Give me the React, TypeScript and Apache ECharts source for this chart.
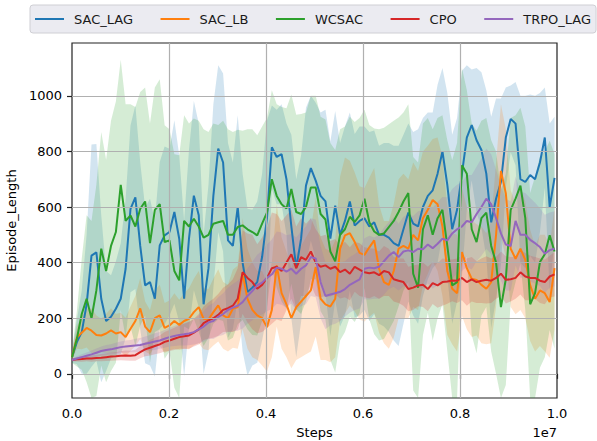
import React, { useEffect, useRef } from "react";
import * as echarts from "echarts";

// ---- data ----
const seriesNames = ["SAC_LAG", "SAC_LB", "WCSAC", "CPO", "TRPO_LAG"];
const colors = ["#1f77b4", "#ff7f0e", "#2ca02c", "#d62728", "#9467bd"];
const yTicks = [0, 200, 400, 600, 800, 1000];
const xTicks = [0, 2e6, 4e6, 6e6, 8e6, 1e7];

const sacLag = [
  60, 114, 150, 250, 425, 437, 270, 190, 205, 234,
  270, 378, 593, 635, 460, 318, 330, 270, 462, 498,
  510, 582, 486, 270, 486, 641, 570, 250, 380, 640,
  810, 760, 480, 460, 600, 400, 294, 310, 330, 420,
  560, 815, 780, 790, 700, 530, 380, 486, 677, 740,
  695, 640, 620, 486, 605, 500, 550, 620, 533, 550,
  560, 530, 545, 500, 500, 490, 470, 460, 520, 580,
  540, 530, 600, 640, 660, 720, 800, 680, 520, 590,
  720, 850, 895, 840, 805, 720, 545, 630, 690, 850,
  917, 900, 700, 690, 715, 700, 760, 850, 600, 705,
];
const sacLagStd = [
  20, 80, 150, 250, 400, 390, 300, 180, 150, 170,
  200, 250, 300, 330, 300, 280, 300, 280, 300, 320,
  300, 330, 300, 280, 320, 340, 330, 250, 300, 330,
  300, 320, 350, 300, 330, 320, 300, 280, 290, 300,
  350, 150, 170, 180, 200, 330, 320, 300, 280, 260,
  280, 300, 330, 350, 340, 330, 340, 320, 330, 340,
  330, 340, 330, 320, 330, 340, 350, 360, 340, 320,
  330, 350, 320, 300, 280, 320, 300, 330, 340, 330,
  370, 260, 200, 260, 280, 300, 380, 360, 300, 180,
  120, 150, 300, 310, 290, 300, 250, 180, 300, 220,
];

const sacLb = [
  60, 130, 148, 165, 155, 140, 138, 145, 156, 145,
  150, 132, 162, 190, 235, 170, 150, 200, 210, 165,
  174, 190, 176, 190, 198, 222, 240, 198, 195, 222,
  246, 210, 200, 234, 240, 360, 270, 230, 210, 200,
  168, 230, 390, 290, 250, 200, 240, 260, 280, 300,
  384, 270, 250, 242, 270, 450, 498, 506, 474, 435,
  428, 455, 480, 378, 330, 320, 370, 450, 460, 450,
  500, 480, 560, 590, 625, 610, 530, 370, 306, 290,
  438, 380, 342, 338, 320, 306, 330, 500, 730, 650,
  450, 414, 450, 410, 318, 270, 300, 290, 258, 380,
];
const sacLbStd = [
  10, 40, 60, 70, 80, 70, 60, 70, 80, 70,
  70, 70, 80, 90, 110, 90, 80, 100, 110, 90,
  90, 100, 90, 100, 110, 120, 130, 110, 110, 120,
  130, 120, 120, 140, 150, 200, 180, 170, 160, 170,
  160, 170, 220, 200, 190, 180, 190, 200, 210, 220,
  250, 220, 200, 200, 210, 260, 280, 260, 250, 240,
  240, 250, 260, 230, 220, 230, 240, 250, 260, 250,
  260, 250, 240, 230, 220, 240, 250, 230, 200, 210,
  230, 220, 210, 200, 210, 200, 220, 260, 240, 230,
  210, 200, 220, 210, 200, 190, 200, 210, 200, 220,
];

const wcsac = [
  60, 126, 215, 270, 200, 300, 450, 370, 460, 510,
  680, 550, 570, 530, 594, 620, 470, 590, 610, 474,
  480, 370, 336, 550, 530, 558, 530, 490, 500, 540,
  545, 550, 500, 500, 528, 534, 520, 510, 498, 540,
  580, 700, 640, 610, 595, 665, 582, 575, 600, 670,
  670, 575, 555, 440, 405, 500, 520, 565, 546, 570,
  630, 545, 512, 500, 505, 528, 550, 582, 620, 650,
  360, 310, 520, 570, 500, 560, 590, 460, 318, 330,
  750, 720, 520, 474, 560, 580, 460, 400, 240, 340,
  590, 630, 677, 560, 250, 290, 402, 430, 498, 440,
];
const wcsacStd = [
  20, 100, 200, 300, 350, 380, 420, 400, 450, 470,
  450, 420, 400, 430, 420, 410, 430, 440, 450, 420,
  400, 420, 450, 380, 370, 360, 380, 390, 370, 360,
  350, 360, 380, 370, 350, 340, 360, 370, 360, 350,
  340, 320, 330, 350, 360, 340, 350, 360, 340, 330,
  330, 350, 360, 390, 400, 380, 370, 360, 360, 350,
  320, 350, 370, 380, 380, 370, 360, 340, 320, 320,
  420, 450, 380, 350, 380, 360, 340, 380, 450, 500,
  350, 300, 380, 400, 350, 340, 380, 400, 420, 380,
  330, 300, 280, 330, 400, 420, 380, 370, 340, 350,
];

const cpo = [
  50, 52, 53, 55, 55, 57, 58, 60, 62, 63,
  65, 66, 65, 67, 78, 88, 94, 100, 106, 115,
  120, 126, 132, 135, 138, 148, 160, 182, 192, 200,
  212, 230, 236, 245, 270, 366, 345, 330, 306, 320,
  345, 380, 385, 370, 400, 430, 380, 420, 410, 440,
  400, 385, 390, 378, 385, 366, 375, 360, 385, 375,
  365, 362, 365, 355, 370, 365, 340, 335, 330, 305,
  310, 318, 320, 305, 326, 318, 330, 332, 336, 335,
  345, 330, 340, 330, 335, 338, 335, 345, 360, 338,
  340, 345, 365, 350, 345, 345, 335, 330, 350, 358,
];
const cpoStd = [
  5, 8, 10, 10, 12, 12, 13, 14, 15, 15,
  16, 18, 18, 20, 22, 25, 28, 30, 32, 35,
  38, 40, 42, 45, 48, 50, 55, 60, 65, 70,
  75, 80, 85, 95, 110, 150, 160, 170, 160, 170,
  180, 200, 190, 180, 170, 160, 150, 140, 130, 120,
  120, 110, 110, 100, 100, 95, 100, 95, 90, 95,
  90, 90, 85, 85, 90, 85, 80, 80, 85, 80,
  80, 75, 80, 80, 75, 80, 85, 80, 75, 80,
  80, 85, 80, 75, 80, 85, 80, 75, 80, 85,
  80, 75, 80, 85, 80, 75, 80, 80, 75, 80,
];

const trpoLag = [
  50, 55, 60, 65, 70, 76, 82, 86, 88, 92,
  96, 98, 100, 102, 104, 108, 112, 116, 120, 126,
  132, 136, 140, 142, 145, 150, 160, 170, 185, 190,
  205, 215, 230, 238, 245, 258, 280, 298, 318, 328,
  345, 358, 382, 378, 368, 378, 360, 378, 390, 420,
  415, 330, 280, 285, 290, 295, 305, 320, 330, 340,
  378, 382, 380, 385, 405, 425, 438, 420, 440, 444,
  438, 450, 448, 465, 452, 468, 486, 480, 505, 520,
  530, 550, 545, 575, 600, 630, 610, 560, 505, 465,
  460, 550, 500, 500, 482, 470, 456, 432, 445, 450,
];
const trpoLagStd = [
  5, 8, 10, 12, 14, 15, 16, 18, 18, 20,
  20, 22, 22, 24, 25, 26, 28, 30, 30, 32,
  34, 36, 38, 40, 42, 45, 50, 55, 60, 65,
  70, 75, 80, 85, 90, 95, 100, 105, 110, 115,
  120, 125, 130, 130, 130, 125, 130, 135, 140, 140,
  140, 130, 120, 110, 110, 105, 100, 100, 100, 105,
  110, 115, 110, 115, 120, 120, 125, 120, 125, 130,
  130, 135, 140, 140, 145, 150, 150, 155, 160, 160,
  160, 165, 170, 170, 175, 180, 180, 175, 170, 165,
  160, 160, 155, 150, 150, 145, 140, 140, 135, 135,
];

const means = [sacLag, sacLb, wcsac, cpo, trpoLag];
const stds = [sacLagStd, sacLbStd, wcsacStd, cpoStd, trpoLagStd];
const steps = sacLag.map((_, i) => i * 1.005e5);

const Y_MIN = -87;
const Y_MAX = 1190;
const FONT = "DejaVu Sans";

function bandSeries(idx: number) {
  const mean = means[idx];
  const std = stds[idx];
  return {
    type: "custom",
    name: seriesNames[idx] + "_band",
    silent: true,
    z: 1,
    clip: true,
    data: [[0, 0]],
    renderItem: (_params: any, api: any) => {
      const top = mean.map((m, i) => api.coord([steps[i], Math.min(m + std[i], Y_MAX)]));
      const bot = mean
        .map((m, i) => api.coord([steps[i], Math.max(m - std[i], Y_MIN)]))
        .reverse();
      return {
        type: "polygon",
        shape: { points: top.concat(bot) },
        style: { fill: colors[idx], opacity: 0.2 },
      };
    },
  };
}

function lineSeries(idx: number) {
  return {
    type: "line",
    name: seriesNames[idx],
    symbol: "none",
    showSymbol: false,
    z: 3,
    lineStyle: { color: colors[idx], width: 2 },
    itemStyle: { color: colors[idx] },
    data: steps.map((x, i) => [x, means[idx][i]]),
  };
}

export default function App() {
  const ref = useRef<HTMLDivElement>(null);
  useEffect(() => {
    document.body.style.margin = "0";
    if (!ref.current) return;
    const chart = echarts.init(ref.current, null, { renderer: "svg" });
    const gridSeries = {
      type: "line",
      name: "grid",
      z: 2,
      silent: true,
      data: [],
      markLine: {
        silent: true,
        symbol: ["none", "none"],
        label: { show: false },
        animation: false,
        lineStyle: { color: "#b0b0b0", width: 1.2, type: "solid" },
        data: [
          ...yTicks.map((v) => ({ yAxis: v })),
          ...xTicks.slice(1, -1).map((v) => ({ xAxis: v })),
        ],
      },
    };
    chart.setOption({
      animation: false,
      backgroundColor: "#ffffff",
      textStyle: { fontFamily: FONT },
      grid: {
        left: 72,
        right: 40,
        top: 43,
        bottom: 43,
        containLabel: false,
        outerBoundsMode: "none",
        show: true,
        borderColor: "#222",
        borderWidth: 1.2,
        backgroundColor: "transparent",
      },
      legend: {
        data: seriesNames,
        left: 30,
        top: 5,
        width: 700,
        padding: [7, 5, 7, 5],
        icon: "rect",
        itemWidth: 29,
        itemHeight: 2,
        itemGap: 27.5,
        backgroundColor: "#ebebf1",
        borderColor: "#cfcfd4",
        borderWidth: 1,
        borderRadius: 3,
        textStyle: {
          fontSize: 13,
          lineHeight: 14,
          color: "#1a1a1a",
          fontFamily: FONT,
          padding: [0, 0, 0, 5],
        },
      },
      xAxis: {
        type: "value",
        min: 0,
        max: 1e7,
        interval: 2e6,
        name: "Steps",
        nameLocation: "middle",
        nameGap: 28,
        nameTextStyle: { fontSize: 13, color: "#000", fontFamily: FONT },
        axisLine: { show: false },
        axisTick: { show: true, length: 5, lineStyle: { color: "#222", width: 1.2 } },
        axisLabel: {
          fontSize: 13,
          color: "#000",
          fontFamily: FONT,
          margin: 9,
          formatter: (v: number) => (v / 1e7).toFixed(1),
        },
        splitLine: { show: false },
      },
      yAxis: {
        type: "value",
        min: Y_MIN,
        max: Y_MAX,
        name: "Episode_Length",
        nameLocation: "middle",
        nameGap: 50,
        nameRotate: 90,
        nameTextStyle: { fontSize: 13, color: "#000", fontFamily: FONT },
        axisLine: { show: false },
        axisTick: {
          show: true,
          length: 5,
          customValues: yTicks,
          lineStyle: { color: "#222", width: 1.2 },
        },
        axisLabel: {
          fontSize: 13,
          color: "#000",
          fontFamily: FONT,
          margin: 10,
          customValues: yTicks,
          formatter: (v: number) => String(Math.round(v)),
        },
        splitLine: { show: false },
      },
      graphic: [
        {
          type: "text",
          right: 40,
          top: 426,
          style: { text: "1e7", font: `13px "${FONT}"`, fill: "#000" },
        },
      ],
      series: [
        ...[0, 1, 2, 3, 4].map(bandSeries),
        gridSeries,
        ...[0, 1, 2, 3, 4].map(lineSeries),
      ],
    });
    return () => chart.dispose();
  }, []);
  return <div ref={ref} style={{ width: 597, height: 441 }} />;
}
